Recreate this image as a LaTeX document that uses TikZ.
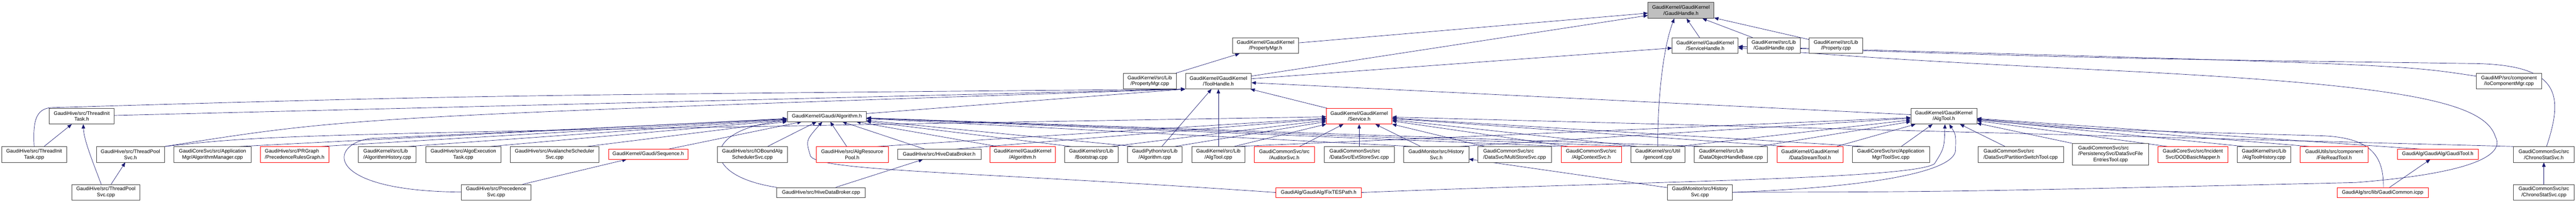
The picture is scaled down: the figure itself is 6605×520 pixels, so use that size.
\documentclass[tikz,border=0pt]{standalone}
\usepackage{fontspec}
\setmainfont{Liberation Sans}
\usetikzlibrary{arrows.meta}

\definecolor{edgeblue}{RGB}{25,25,112}
\definecolor{rootgray}{RGB}{191,191,191}
\definecolor{cutred}{RGB}{255,0,0}

\tikzset{
 file/.style={draw=black!75, fill=white, line width=1bp, inner sep=0pt, minimum height=40bp, align=center, font=\fontsize{13}{15.3}\selectfont},
 trunc/.style={file, draw=cutred},
 flat/.style={minimum height=25.5bp},
 inc/.style={draw=edgeblue, line width=0.9bp, -{Triangle[length=11bp,width=9bp]}}
}
\pgfdeclarelayer{edges}
\pgfsetlayers{edges,main}

\begin{document}
\begin{tikzpicture}[x=1bp, y=-1bp]
 \useasboundingbox (0,0) rectangle (6605,520);
 \node[file, fill=rootgray, minimum width=169bp, minimum height=41bp] (gh) at (4310,26.5) {GaudiKernel/GaudiKernel\\/GaudiHandle.h};

 \node[file, minimum width=169bp] (pmh) at (3245,117) {GaudiKernel/GaudiKernel\\/PropertyMgr.h};
 \node[file, minimum width=169bp] (sh) at (4372,117) {GaudiKernel/GaudiKernel\\/ServiceHandle.h};
 \node[file, minimum width=137bp] (ghcpp) at (4548,117) {GaudiKernel/src/Lib\\/GaudiHandle.cpp};
 \node[file, minimum width=137bp] (propcpp) at (4707.5,117) {GaudiKernel/src/Lib\\/Property.cpp};

 \node[file, minimum width=136bp] (pmcpp) at (2948,208) {GaudiKernel/src/Lib\\/PropertyMgr.cpp};
 \node[file, minimum width=169bp] (th) at (3124,208) {GaudiKernel/GaudiKernel\\/ToolHandle.h};
 \node[file, minimum width=167bp] (iocomp) at (6433,208) {GaudiMP/src/component\\/IoComponentMgr.cpp};

 \node[file, minimum width=167bp] (tith) at (209.5,298) {GaudiHive/src/ThreadInit\\Task.h};
 \node[file, flat, minimum width=203bp] (alg) at (2120,299) {GaudiKernel/Gaudi/Algorithm.h};
 \node[trunc, minimum width=168bp] (svc) at (3485,298) {GaudiKernel/GaudiKernel\\/Service.h};
 \node[file, minimum width=169bp] (algtool) at (4984,298) {GaudiKernel/GaudiKernel\\/AlgTool.h};

 \node[file, minimum width=167bp] (titcpp) at (87.5,396) {GaudiHive/src/ThreadInit\\Task.cpp};
 \node[file, minimum width=175bp] (tpsh) at (334.5,396) {GaudiHive/src/ThreadPool\\Svc.h};
 \node[file, minimum width=198bp] (algmgr) at (545,396) {GaudiCoreSvc/src/Application\\Mgr/AlgorithmManager.cpp};
 \node[trunc, align=left, minimum width=175bp] (prg) at (755.5,396) {GaudiHive/src/PRGraph\\/PrecedenceRulesGraph.h};
 \node[file, align=left, minimum width=148bp] (alghist) at (993,396) {GaudiKernel/src/Lib\\/AlgorithmHistory.cpp};
 \node[file, minimum width=194bp] (aetask) at (1188,396) {GaudiHive/src/AlgoExecution\\Task.cpp};
 \node[file, minimum width=228bp] (avsched) at (1422,396) {GaudiHive/src/AvalancheScheduler\\Svc.cpp};
 \node[trunc, flat, minimum width=204bp] (seqh) at (1662,395.5) {GaudiKernel/Gaudi/Sequence.h};
 \node[file, minimum width=179bp] (iobound) at (1929,396) {GaudiHive/src/IOBoundAlg\\SchedulerSvc.cpp};
 \node[trunc, minimum width=185bp] (arp) at (2185,396) {GaudiHive/src/AlgResource\\Pool.h};
 \node[file, flat, minimum width=214bp] (hdbh) at (2408,395.5) {GaudiHive/src/HiveDataBroker.h};
 \node[trunc, minimum width=169bp] (gkalg) at (2622,396) {GaudiKernel/GaudiKernel\\/Algorithm.h};
 \node[file, minimum width=137bp] (bootstrap) at (2798,396) {GaudiKernel/src/Lib\\/Bootstrap.cpp};
 \node[file, minimum width=140bp] (pyalg) at (2961,396) {GaudiPython/src/Lib\\/Algorithm.cpp};
 \node[file, minimum width=136bp] (algtoolcpp) at (3124,396) {GaudiKernel/src/Lib\\/AlgTool.cpp};
 \node[trunc, minimum width=155bp] (audsvc) at (3293,396) {GaudiCommonSvc/src\\/AuditorSvc.h};
 \node[file, align=left, minimum width=180bp] (evtstore) at (3485,396) {GaudiCommonSvc/src\\/DataSvc/EvtStoreSvc.cpp};
 \node[file, minimum width=167bp] (histsvch) at (3682.5,396) {GaudiMonitor/src/History\\Svc.h};
 \node[file, align=left, minimum width=189bp] (multistore) at (3883.5,396) {GaudiCommonSvc/src\\/DataSvc/MultiStoreSvc.cpp};
 \node[trunc, minimum width=155bp] (algctx) at (4080,396) {GaudiCommonSvc/src\\/AlgContextSvc.h};
 \node[file, minimum width=139bp] (genconf) at (4250.5,396) {GaudiKernel/src/Util\\/genconf.cpp};
 \node[file, align=left, minimum width=188bp] (dohb) at (4438,396) {GaudiKernel/src/Lib\\/DataObjectHandleBase.cpp};
 \node[trunc, minimum width=168bp] (datastream) at (4641,396) {GaudiKernel/GaudiKernel\\/DataStreamTool.h};
 \node[file, minimum width=198bp] (toolsvc) at (4848,396) {GaudiCoreSvc/src/Application\\Mgr/ToolSvc.cpp};
 \node[file, align=left, minimum width=219bp] (partsw) at (5181,396) {GaudiCommonSvc/src\\/DataSvc/PartitionSwitchTool.cpp};
 \node[file, minimum width=195bp, minimum height=55bp] (dsfet) at (5411.5,395.5) {\begin{tabular}{@{}l@{}}GaudiCommonSvc/src\\/PersistencySvc/DataSvcFile\\\multicolumn{1}{@{}c@{}}{EntriesTool.cpp}\end{tabular}};
 \node[trunc, minimum width=179bp] (dod) at (5622.5,396) {GaudiCoreSvc/src/Incident\\Svc/DODBasicMapper.h};
 \node[file, minimum width=138bp] (ath) at (5805,396) {GaudiKernel/src/Lib\\/AlgToolHistory.cpp};
 \node[trunc, minimum width=174bp] (fileread) at (5985,396) {GaudiUtils/src/component\\/FileReadTool.h};
 \node[trunc, flat, minimum width=207bp] (gtool) at (6250.5,395.5) {GaudiAlg/GaudiAlg/GaudiTool.h};
 \node[file, minimum width=156bp] (chronoh) at (6522.5,396) {GaudiCommonSvc/src\\/ChronoStatSvc.h};

 \node[file, minimum width=175bp] (tpcpp) at (271.5,493) {GaudiHive/src/ThreadPool\\Svc.cpp};
 \node[file, minimum width=179bp] (precsvc) at (1272,493) {GaudiHive/src/Precedence\\Svc.cpp};
 \node[file, flat, minimum width=227bp] (hdbcpp) at (2105,493.5) {GaudiHive/src/HiveDataBroker.cpp};
 \node[trunc, flat, minimum width=219bp] (fixtes) at (3381,493.5) {GaudiAlg/GaudiAlg/FixTESPath.h};
 \node[file, minimum width=167bp] (histcpp) at (4358.5,493) {GaudiMonitor/src/History\\Svc.cpp};
 \node[trunc, flat, minimum width=234bp] (gcicpp) at (6109,493.5) {GaudiAlg/src/lib/GaudiCommon.icpp};
 \node[file, minimum width=156bp] (chroncpp) at (6522.5,493) {GaudiCommonSvc/src\\/ChronoStatSvc.cpp};

 \begin{pgfonlayer}{edges}
 \draw[inc] (pmh) -- (gh);
 \draw[inc] (sh) -- (gh);
 \draw[inc] (ghcpp) -- (gh);
 \draw[inc] (propcpp) -- (gh);
 \draw[inc] (th) -- (gh);
 \draw[inc] (genconf.north) .. controls (4250,250) and (4265,120) .. ([xshift=-17bp]gh.south);
 \draw[inc] (pmcpp) -- (pmh);
 \draw[inc] (th) -- (sh);
 \draw[inc] (iocomp) .. controls (6150,165) .. (sh);
 \draw[inc] (chronoh) .. controls (6575,240) and (6560,168) .. (6350,163) .. controls (5400,150) .. (sh);
 \draw[inc] (histcpp) .. controls (5000,492) .. (6040,468) .. controls (6330,445) and (6425,400) .. (6398,350) .. controls (6370,260) and (6150,220) .. (5500,185) .. controls (4900,155) .. (sh);

 \draw[inc] (tith) -- (th.south west);
 \draw[inc] (titcpp.north) .. controls (84,310) and (92,280) .. (130,276) .. controls (1200,245) .. (th.south west);
 \draw[inc] (tpsh.north east) .. controls (900,300) .. (th.south west);
 \draw[inc] (alg) -- (th.south west);
 \draw[inc] (svc) -- (th);
 \draw[inc] (algtool) -- (th);
 \draw[inc] ([xshift=18bp]pyalg.north) -- (th);
 \draw[inc] (algtoolcpp) -- (th);

 \draw[inc] ([xshift=69bp]algmgr.north) -- (alg);
 \draw[inc] ([xshift=68bp]prg.north) -- (alg);
 \draw[inc] ([xshift=53bp]alghist.north) -- (alg);
 \draw[inc] ([xshift=69bp]aetask.north) -- (alg);
 \draw[inc] ([xshift=83bp]avsched.north) -- (alg);
 \draw[inc] ([xshift=52bp]seqh.north) -- (alg);
 \draw[inc] ([xshift=39bp]iobound.north) -- (alg);
 \draw[inc] ([xshift=-14bp]arp.north) -- (alg);
 \draw[inc] ([xshift=-37bp]hdbh.north) -- (alg);
 \draw[inc] ([xshift=-65bp]gkalg.north) -- (alg);
 \draw[inc] ([xshift=-52bp]bootstrap.north) -- (alg);
 \draw[inc] ([xshift=-54bp]pyalg.north) -- (alg);
 \draw[inc] ([xshift=-61bp]histsvch.north) -- (alg);
 \draw[inc] ([xshift=-70bp]algctx.north) -- (alg);
 \draw[inc] ([xshift=-60bp]genconf.north) -- (alg);
 \draw[inc] ([xshift=-67bp]dohb.north) -- (alg);
 \draw[inc] (hdbcpp.north west) .. controls (1790,450) and (1800,330) .. (alg);
 \draw[inc] (precsvc) .. controls (830,490) and (840,370) .. (950,355) .. controls (1500,330) .. (alg);
 \draw[inc] (fixtes.west) .. controls (2500,440) and (2100,440) .. (2078,400) .. controls (2066,360) .. (alg);

 \draw[inc] (titcpp) -- (tith);
 \draw[inc] ([xshift=-12bp]tpcpp.north) .. controls (240,420) and (215,360) .. ([xshift=4bp]tith.south);
 \draw[inc] (tpcpp) -- (tpsh);
 \draw[inc] ([xshift=68bp]precsvc.north) -- (seqh);
 \draw[inc] ([xshift=38bp]hdbcpp.north) -- (hdbh);
 \draw[inc] (histcpp) -- (histsvch);
 \draw[inc] ([xshift=18bp]gcicpp.north) -- (gtool);
 \draw[inc] (chroncpp) -- (chronoh);

 \draw[inc] (tpsh.north east) .. controls (700,345) .. (svc);
 \draw[inc] ([xshift=65bp]arp.north) -- (svc);
 \draw[inc] ([xshift=42bp]hdbh.north) -- (svc);
 \draw[inc] ([xshift=52bp]bootstrap.north) -- (svc);
 \draw[inc] ([xshift=51bp]pyalg.north) -- (svc);
 \draw[inc] ([xshift=40bp]algtoolcpp.north) -- (svc);
 \draw[inc] ([xshift=39bp]audsvc.north) -- (svc);
 \draw[inc] (evtstore) -- (svc);
 \draw[inc] ([xshift=-40bp]histsvch.north) -- (svc);
 \draw[inc] ([xshift=-77bp]multistore.north) -- (svc);
 \draw[inc] ([xshift=-59bp]algctx.north) -- (svc);
 \draw[inc] ([xshift=-52bp]genconf.north) -- (svc);
 \draw[inc] ([xshift=-61bp]datastream.north) -- (svc);
 \draw[inc] ([xshift=-69bp]toolsvc.north) -- (svc);
 \draw[inc] (chronoh.north west) -- (svc);

 \draw[inc] ([xshift=47bp]algtoolcpp.north) -- (algtool);
 \draw[inc] ([xshift=60bp]histsvch.north) -- (algtool);
 \draw[inc] ([xshift=53bp]genconf.north) -- (algtool);
 \draw[inc] ([xshift=73bp]dohb.north) -- (algtool);
 \draw[inc] ([xshift=68bp]datastream.north) -- (algtool);
 \draw[inc] ([xshift=27bp]toolsvc.north) -- (algtool);
 \draw[inc] ([xshift=-40bp]partsw.north) -- (algtool);
 \draw[inc] (dsfet.north west) -- (algtool);
 \draw[inc] ([xshift=-65bp]dod.north) -- (algtool);
 \draw[inc] ([xshift=-51bp]ath.north) -- (algtool);
 \draw[inc] ([xshift=-64bp]fileread.north) -- (algtool);
 \draw[inc] ([xshift=-44bp]gtool.north) -- (algtool);
 \draw[inc] ([xshift=2bp]gcicpp.north) .. controls (6112,400) and (6080,352) .. (5950,348) .. controls (5300,330) .. (algtool);
 \draw[inc] (histcpp.east) .. controls (4800,480) and (5012,440) .. (5014,385) .. controls (5015,345) .. ([xshift=14bp]algtool.south);
 \draw[inc] (fixtes.east) .. controls (4200,465) and (4900,460) .. (4960,420) .. controls (4985,380) .. ([xshift=3bp]algtool.south);
 \end{pgfonlayer}
\end{tikzpicture}
\end{document}
